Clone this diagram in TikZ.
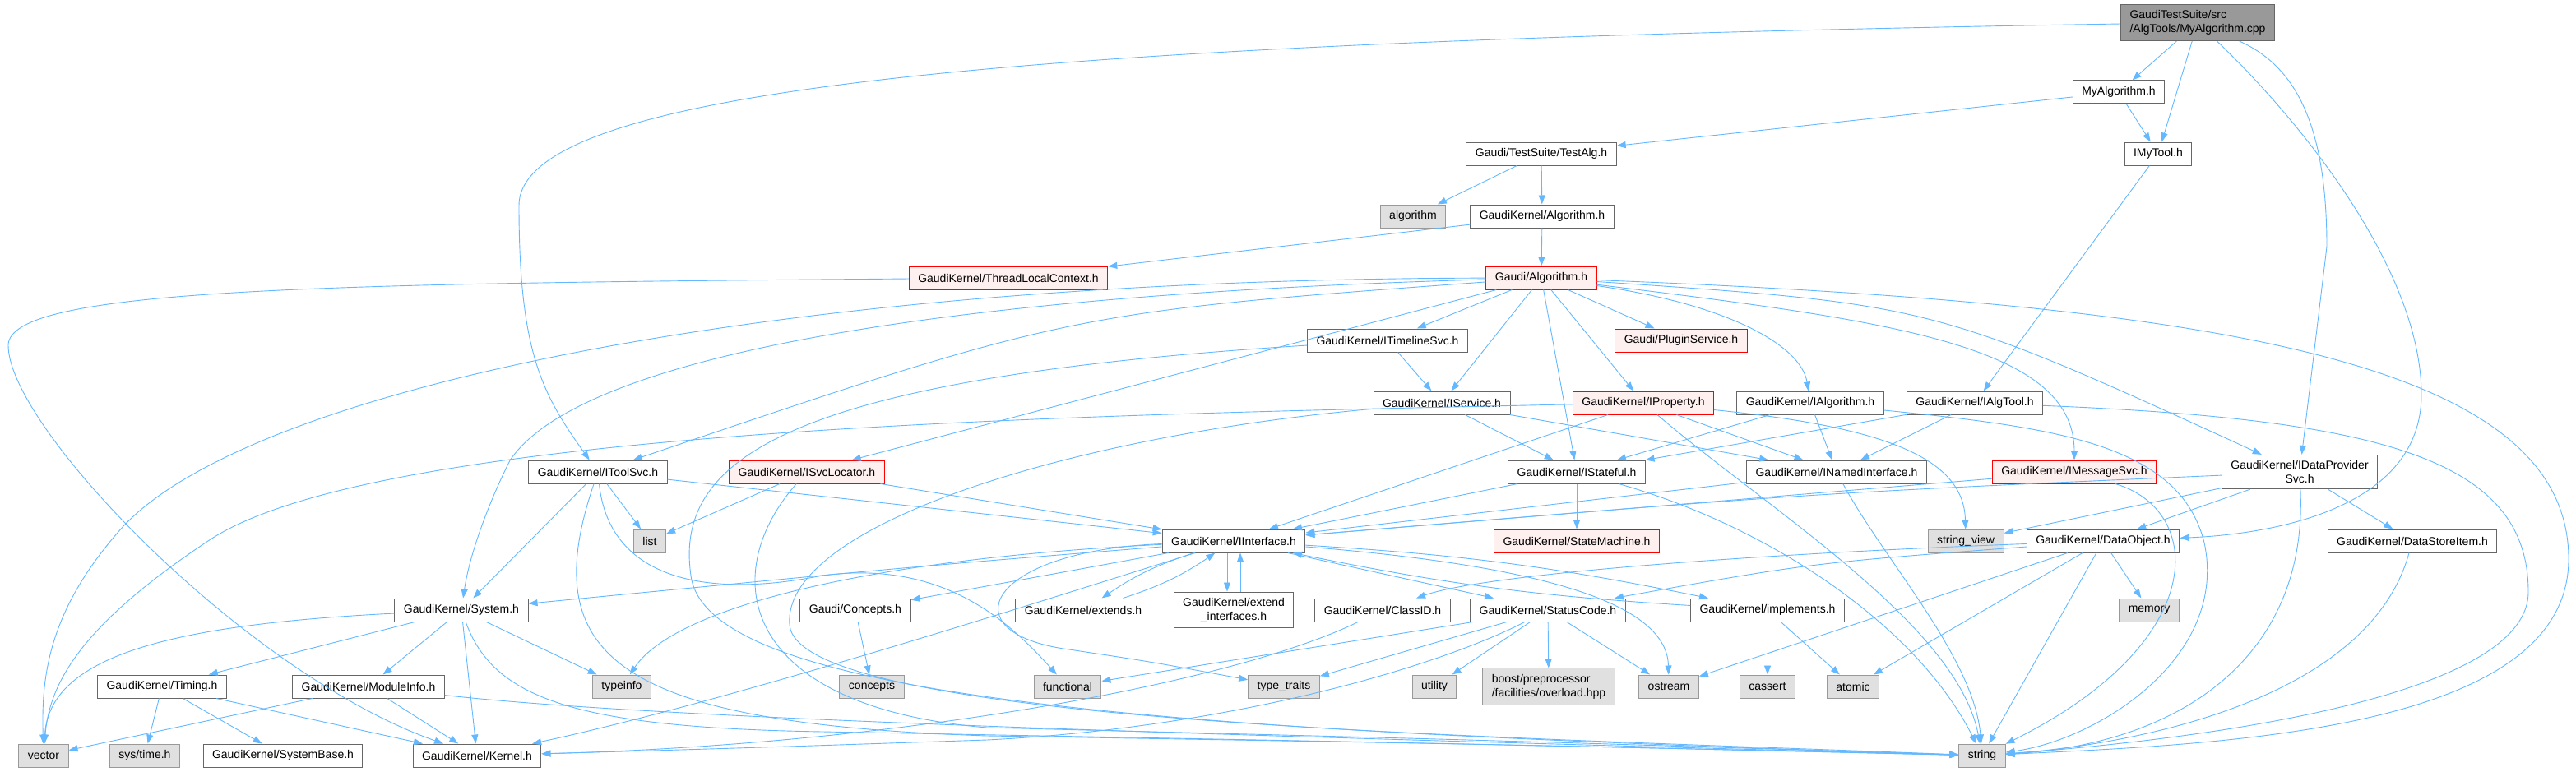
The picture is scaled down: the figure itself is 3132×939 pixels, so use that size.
\documentclass[tikz,border=0pt]{standalone}
\usepackage{fontspec}
\setmainfont{Liberation Sans}
\usetikzlibrary{arrows.meta,positioning}

\definecolor{edgeblue}{HTML}{63B8FF}
\definecolor{boxline}{HTML}{666666}
\definecolor{extline}{HTML}{999999}
\definecolor{extfill}{HTML}{E0E0E0}
\definecolor{rootfill}{HTML}{999999}
\definecolor{redfill}{HTML}{FFF0F0}

\begin{document}
\begin{tikzpicture}[x=1pt,y=-1pt,
  hdr/.style={draw=boxline,fill=white,line width=1pt,font=\fontsize{14}{17}\selectfont,
    minimum height=28pt,inner xsep=11pt,inner ysep=7pt},
  sys/.style={hdr,draw=extline,fill=extfill},
  trunc/.style={hdr,draw=red,fill=redfill},
  mainfile/.style={hdr,fill=rootfill},
  inc/.style={draw=edgeblue,line width=0.9pt,-{Triangle[length=11pt,width=8pt]}}]
\useasboundingbox (0,0) rectangle (3132,939);

\node[mainfile,align=left] (root) at (2672,27.5) {GaudiTestSuite/src\\/AlgTools/MyAlgorithm.cpp};
\node[hdr] (myalg) at (2576,112) {MyAlgorithm.h};
\node[hdr] (imytool) at (2624,187) {IMyTool.h};
\node[hdr] (testalg) at (1874,187) {Gaudi/TestSuite/TestAlg.h};
\node[sys] (algorithm) at (1718,263) {algorithm};
\node[hdr] (gkalg) at (1875,263) {GaudiKernel/Algorithm.h};
\node[trunc] (tlc) at (1226,338) {GaudiKernel/ThreadLocalContext.h};
\node[trunc] (galg) at (1874,338) {Gaudi/Algorithm.h};
\node[hdr] (timeline) at (1687,414) {GaudiKernel/ITimelineSvc.h};
\node[trunc] (plugin) at (2044,414) {Gaudi/PluginService.h};
\node[hdr] (iservice) at (1753,490) {GaudiKernel/IService.h};
\node[trunc] (iproperty) at (1998,490) {GaudiKernel/IProperty.h};
\node[hdr] (ialgorithm) at (2201,490) {GaudiKernel/IAlgorithm.h};
\node[hdr] (ialgtool) at (2401,490) {GaudiKernel/IAlgTool.h};
\node[hdr] (itoolsvc) at (727,574) {GaudiKernel/IToolSvc.h};
\node[trunc] (isvcloc) at (981,574) {GaudiKernel/ISvcLocator.h};
\node[hdr] (istateful) at (1917,574) {GaudiKernel/IStateful.h};
\node[hdr] (inamed) at (2233,574) {GaudiKernel/INamedInterface.h};
\node[trunc] (imsgsvc) at (2522,574) {GaudiKernel/IMessageSvc.h};
\node[hdr,align=center] (idps) at (2796,574) {GaudiKernel/IDataProvider\\Svc.h};
\node[sys] (list) at (790,658) {list};
\node[hdr] (iinterface) at (1500,658) {GaudiKernel/IInterface.h};
\node[trunc] (statemachine) at (1917,658) {GaudiKernel/StateMachine.h};
\node[sys] (strview) at (2390,658) {string\_view};
\node[hdr] (dataobj) at (2557,658) {GaudiKernel/DataObject.h};
\node[hdr] (storeitem) at (2933,658) {GaudiKernel/DataStoreItem.h};
\node[hdr] (system) at (561,742) {GaudiKernel/System.h};
\node[hdr] (conceptsh) at (1040,742) {Gaudi/Concepts.h};
\node[hdr] (extends) at (1317,742) {GaudiKernel/extends.h};
\node[hdr,align=center] (extendif) at (1500,742) {GaudiKernel/extend\\\_interfaces.h};
\node[hdr] (classid) at (1681,742) {GaudiKernel/ClassID.h};
\node[hdr] (statuscode) at (1882,742) {GaudiKernel/StatusCode.h};
\node[hdr] (implements) at (2149,742) {GaudiKernel/implements.h};
\node[sys] (memory) at (2613,742) {memory};
\node[hdr] (timing) at (197,835) {GaudiKernel/Timing.h};
\node[hdr] (moduleinfo) at (448,835) {GaudiKernel/ModuleInfo.h};
\node[sys] (typeinfo) at (756,835) {typeinfo};
\node[sys] (concepts) at (1060,835) {concepts};
\node[sys] (functional) at (1298,835) {functional};
\node[sys] (typetraits) at (1561,835) {type\_traits};
\node[sys] (utility) at (1744,835) {utility};
\node[sys,align=left] (boost) at (1883,835) {boost/preprocessor\\/facilities/overload.hpp};
\node[sys] (ostream) at (2029,835) {ostream};
\node[sys] (cassert) at (2149,835) {cassert};
\node[sys] (atomic) at (2253,835) {atomic};
\node[sys] (vector) at (53,919) {vector};
\node[sys] (systime) at (176,919) {sys/time.h};
\node[hdr] (sysbase) at (344,919) {GaudiKernel/SystemBase.h};
\node[hdr] (kernel) at (580,919) {GaudiKernel/Kernel.h};
\node[sys] (string) at (2410,919) {string};

% MyAlgorithm.cpp
\draw[inc] (root) -- (myalg);
\draw[inc] (root) -- (imytool);
\draw[inc] (root) .. controls (1300,50) and (631,100) .. (631,250) .. controls (631,430) and (660,480) .. (itoolsvc);
\draw[inc] (root) .. controls (2790,80) and (2829,150) .. (2829,300) -- (idps);
\draw[inc] (root) .. controls (2800,150) and (2944,330) .. (2944,480) .. controls (2944,620) and (2760,650) .. (dataobj);

\draw[inc] (myalg) -- (testalg);
\draw[inc] (myalg) -- (imytool);
\draw[inc] (imytool) -- (ialgtool);
\draw[inc] (testalg) -- (algorithm);
\draw[inc] (testalg) -- (gkalg);
\draw[inc] (gkalg) -- (galg);
\draw[inc] (gkalg) -- (tlc);
\draw[inc] (tlc) .. controls (400,345) and (10,350) .. (10,420) .. controls (10,520) and (300,820) .. (kernel);

% Gaudi/Algorithm.h
\draw[inc] (galg) -- (timeline);
\draw[inc] (galg) -- (iservice);
\draw[inc] (galg) -- (istateful);
\draw[inc] (galg) -- (iproperty);
\draw[inc] (galg) -- (plugin);
\draw[inc] (galg) .. controls (2100,370) and (2190,420) .. (ialgorithm);
\draw[inc] (galg) .. controls (2300,390) and (2522,420) .. (imsgsvc);
\draw[inc] (galg) .. controls (2350,370) .. (idps);
\draw[inc] (galg) .. controls (2700,370) and (3123,440) .. (3123,680) .. controls (3123,890) and (2700,905) .. (string);
\draw[inc] (galg) .. controls (900,340) and (300,480) .. (150,640) .. controls (60,740) and (50,820) .. (vector);
\draw[inc] (galg) .. controls (1100,360) and (700,440) .. (620,560) .. controls (590,620) and (570,680) .. (system);
\draw[inc] (galg) .. controls (1300,380) .. (itoolsvc);
\draw[inc] (galg) -- (isvcloc);

\draw[inc] (timeline) -- (iservice);
\draw[inc] (timeline) .. controls (950,460) and (820,560) .. (840,700) .. controls (860,860) and (1500,890) .. (string);

\draw[inc] (iservice) -- (istateful);
\draw[inc] (iservice) -- (inamed);
\draw[inc] (iservice) .. controls (1300,530) and (950,640) .. (960,760) .. controls (970,880) and (1800,895) .. (string);

\draw[inc] (iproperty) -- (iinterface);
\draw[inc] (iproperty) -- (inamed);
\draw[inc] (iproperty) .. controls (2150,620) and (2380,760) .. (string);
\draw[inc] (iproperty) .. controls (2300,520) and (2388,560) .. (strview);
\draw[inc] (iproperty) .. controls (1300,505) and (450,520) .. (250,660) .. controls (100,760) and (60,830) .. (vector);

\draw[inc] (ialgorithm) -- (istateful);
\draw[inc] (ialgorithm) -- (inamed);
\draw[inc] (ialgorithm) .. controls (2500,520) and (2650,540) .. (2680,660) .. controls (2710,800) and (2550,900) .. (string);

\draw[inc] (ialgtool) -- (istateful);
\draw[inc] (ialgtool) -- (inamed);
\draw[inc] (ialgtool) .. controls (2900,510) and (3074,560) .. (3074,720) .. controls (3074,860) and (2600,905) .. (string);

\draw[inc] (istateful) -- (iinterface);
\draw[inc] (istateful) -- (statemachine);
\draw[inc] (istateful) .. controls (2150,640) and (2330,760) .. (string);

\draw[inc] (inamed) -- (iinterface);
\draw[inc] (inamed) .. controls (2290,680) and (2400,800) .. (string);

\draw[inc] (imsgsvc) -- (iinterface);
\draw[inc] (imsgsvc) .. controls (2680,620) and (2690,780) .. (string);

\draw[inc] (idps) -- (dataobj);
\draw[inc] (idps) -- (storeitem);
\draw[inc] (idps) -- (strview);
\draw[inc] (idps) .. controls (2200,600) .. (iinterface);
\draw[inc] (idps) .. controls (2806,800) and (2650,905) .. (string);

% IToolSvc.h, ISvcLocator.h
\draw[inc] (itoolsvc) -- (system);
\draw[inc] (itoolsvc) -- (list);
\draw[inc] (itoolsvc) -- (iinterface);
\draw[inc] (itoolsvc) .. controls (740,700) and (850,730) .. (1000,700) .. controls (1150,680) and (1230,760) .. (functional);
\draw[inc] (itoolsvc) .. controls (650,800) and (750,880) .. (1200,895) .. controls (1800,905) .. (string);
\draw[inc] (isvcloc) -- (list);
\draw[inc] (isvcloc) -- (iinterface);
\draw[inc] (isvcloc) .. controls (870,700) and (900,860) .. (1200,885) .. controls (1800,900) .. (string);

% IInterface.h
\draw[inc] (iinterface) .. controls (1100,690) .. (system);
\draw[inc] (iinterface) -- (conceptsh);
\draw[inc] (iinterface) to[bend right=8] (extends);
\draw[inc] (extends) to[bend right=8] (iinterface);
\draw[inc] ([xshift=-8pt]iinterface.south) -- ([xshift=-8pt]extendif.north);
\draw[inc] ([xshift=8pt]extendif.north) -- ([xshift=8pt]iinterface.south);
\draw[inc] (iinterface) to[bend left=4] (implements);
\draw[inc] (implements) to[bend left=4] (iinterface);
\draw[inc] (iinterface) -- (statuscode);
\draw[inc] (iinterface) .. controls (1300,720) and (900,850) .. (kernel);
\draw[inc] (iinterface) .. controls (1050,680) and (820,740) .. (typeinfo);
\draw[inc] (iinterface) .. controls (1900,690) and (2027,740) .. (ostream);
\draw[inc] (iinterface) .. controls (1200,670) and (1150,770) .. (1300,790) .. controls (1400,805) .. (typetraits);

% System.h
\draw[inc] (system) .. controls (200,760) and (60,800) .. (vector);
\draw[inc] (system) -- (timing);
\draw[inc] (system) -- (moduleinfo);
\draw[inc] (system) -- (kernel);
\draw[inc] (system) -- (typeinfo);
\draw[inc] (system) .. controls (600,850) and (700,885) .. (1000,890) .. controls (1800,905) .. (string);
\draw[inc] (timing) -- (systime);
\draw[inc] (timing) -- (sysbase);
\draw[inc] (timing) -- (kernel);
\draw[inc] (moduleinfo) -- (vector);
\draw[inc] (moduleinfo) -- (kernel);
\draw[inc] (moduleinfo) .. controls (800,875) and (1500,895) .. (string);

\draw[inc] (conceptsh) -- (concepts);
\draw[inc] (classid) .. controls (1500,830) and (1100,905) .. (kernel);
\draw[inc] (statuscode) -- (functional);
\draw[inc] (statuscode) -- (typetraits);
\draw[inc] (statuscode) -- (utility);
\draw[inc] (statuscode) -- (boost);
\draw[inc] (statuscode) -- (ostream);
\draw[inc] (statuscode) .. controls (1750,810) and (1500,885) .. (1200,900) .. controls (900,910) .. (kernel);
\draw[inc] (implements) -- (cassert);
\draw[inc] (implements) -- (atomic);

% DataObject.h
\draw[inc] (dataobj) .. controls (2100,675) and (1800,700) .. (classid);
\draw[inc] (dataobj) .. controls (2200,685) .. (statuscode);
\draw[inc] (dataobj) -- (ostream);
\draw[inc] (dataobj) -- (atomic);
\draw[inc] (dataobj) -- (memory);
\draw[inc] (dataobj) -- (string);
\draw[inc] (storeitem) .. controls (2880,850) and (2600,905) .. (string);
\end{tikzpicture}
\end{document}
